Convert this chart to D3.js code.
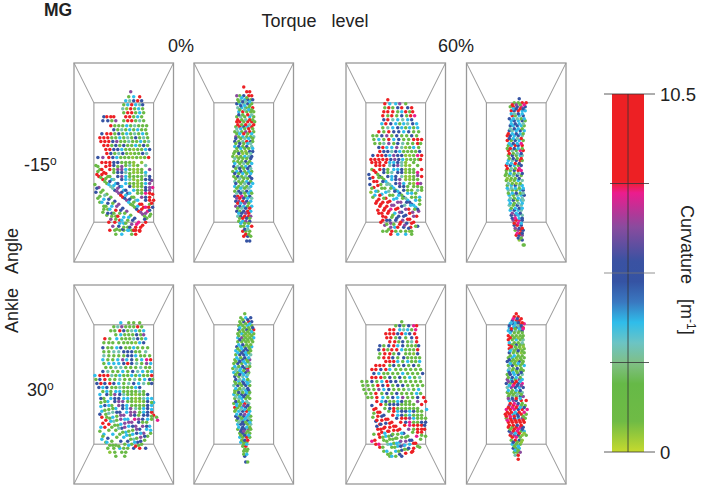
<!DOCTYPE html>
<html><head><meta charset="utf-8">
<script src="https://cdnjs.cloudflare.com/ajax/libs/d3/7.8.5/d3.min.js"></script>
<style>html,body{margin:0;padding:0;background:#fff}svg{display:block}text{font-family:"Liberation Sans",Arial,sans-serif;fill:#222}</style>
</head><body><svg id="c" width="702" height="485"></svg>
<script>
// curvature levels [1/m]
const R=9.5,M=7.6,P=6.6,B=5,C=3.8,T=3,G=1.5,L=0.6;
const torqueLabels=["0%","60%"];
const angleLabels=["-15","30"];
const curvTicks=[0,2.625,5.25,7.875,10.5];
const curvLabels=[0,10.5];
const gradStops=[0,0.9,2,2.6,3.2,3.8,4.4,5,5.6,6.6,7.6,7.95,10.5];
const gradColors=["#c6da2e","#6fbb45","#66b947","#80bf85","#6cc4c4","#2fbdea","#3a78c0","#3553a3","#3a52a2","#8a4b9e","#ec1c8e","#ed2024","#ed2024"];
// rows: [y, x,curvature, x,curvature, ...]
const panelA=[
[29,57,P],[34,55,G,60,C,66,R],[38,52,C,56,T,60,B,64,R,68,B],[42,50,G,54,C,58,R,62,C,66,T,69,B],[46,49,T,53,L,57,R,61,G,65,C,69,G],
[50,50,G,54,R,58,R,62,G,66,C,70,G],[54,30,B,33,R,37,R,40,R,52,R,56,R,60,G,64,C,68,G],[58,29,B,34,B,38,G,42,P,50,G,54,R,58,R,62,G,66,T,70,G],
[63,37,R,41,G,45,G,49,G,53,C,57,G,61,T,65,G,69,G,73,G],[67,40,B,44,G,48,T,52,G,56,C,60,G,64,C,68,G,72,G],
[71,28,B,33,R,37,R,41,G,45,B,49,G,53,C,57,G,61,T,65,G,69,C,73,G],[75,26,R,30,R,34,R,38,G,42,G,46,C,50,G,54,T,58,G,62,B,66,G,70,T,74,G],
[79,27,R,31,R,35,R,39,B,43,P,47,G,51,G,55,T,59,G,63,G,67,C,71,G,75,T],[83,30,R,34,R,38,G,42,B,46,G,50,B,54,G,58,G,62,C,66,G,70,B,74,G],
[87,32,R,36,R,40,B,44,B,48,C,52,G,56,G,60,L,64,G,68,G,72,C,76,B],[91,33,R,37,B,41,G,45,T,49,B,53,G,57,L,61,G,65,G,69,B,73,T],
[95,24,B,29,P,35,R,39,B,43,C,47,G,51,G,55,G,59,L,63,G,67,L,71,G,75,R],[168,36,R,41,G,46,G,50,G,55,C,60,B,62,R,66,R],[172,42,G,48,C,58,G,62,R]];
const strandsA=[
36,100,R,40,103,B,44,107,P,48,110,B,52,114,C,56,117,T,60,121,G,64,124,L,68,128,L,72,131,M,76,135,R,80,138,R,
44,100,B,48,104,P,52,107,C,56,111,G,60,114,G,64,118,L,68,121,G,72,125,B,76,128,P,79,132,R,
52,100,G,56,103,T,60,107,L,64,110,L,68,114,G,72,117,B,76,121,P,79,125,M,
60,100,L,64,103,G,68,107,G,72,110,C,76,114,B,78,118,P,68,100,L,72,103,T,76,107,P,
28,100,R,32,104,R,36,107,R,40,110,G,44,114,B,48,117,B,52,121,C,56,124,B,60,128,C,64,131,G,68,135,P,72,138,B,76,142,G,79,145,B,
22,103,G,26,107,G,30,110,R,34,114,G,38,117,C,42,121,C,46,124,B,50,128,C,54,131,B,58,135,G,62,138,T,66,142,R,70,145,R,74,149,M,77,152,G,
25,114,R,29,117,R,33,121,G,37,124,T,41,128,B,45,131,P,49,135,R,53,138,P,57,142,G,61,145,G,65,149,R,69,152,P,73,156,G,
21,122,G,25,125,P,29,128,G,33,132,G,37,135,G,41,139,B,45,142,P,49,146,B,53,149,P,57,153,G,61,156,B,65,160,M,69,163,R,
22,130,B,26,134,G,30,137,C,34,141,B,38,144,C,42,148,R,46,151,G,50,155,C,54,158,G,58,162,P,62,165,R,66,169,R,
26,140,G,30,144,G,34,147,G,38,151,B,42,154,G,46,158,R,50,161,C,54,165,G,58,168,G,
29,150,G,33,153,G,37,157,P,41,160,R,45,164,B,49,167,B,35,160,R,39,164,P,43,167,G,72,160,R];
const fillA=[
32,100,R,36,103,R,40,107,G,44,110,B,48,114,P,52,117,C,56,121,G,60,124,L,64,128,G,68,131,G,72,135,B,76,138,R,
40,100,B,44,104,G,48,107,P,52,110,T,56,114,G,60,117,L,64,121,L,68,124,G,72,128,B,76,131,R,
48,100,G,52,103,G,56,107,G,60,110,L,64,114,G,68,117,G,72,121,C,76,125,P,
56,100,G,60,103,L,64,107,L,68,110,G,72,113,T,76,117,B,
24,104,G,28,107,R,32,111,R,36,114,G,40,117,T,44,121,B,48,124,C,52,128,B,56,131,C,60,135,G,64,138,C,68,142,R,72,145,M,76,148,B,
23,112,R,27,115,G,31,119,G,35,122,C,39,126,T,43,129,P,47,133,R,51,136,B,55,140,C,59,143,G,63,147,B,67,150,P,71,154,G,
23,126,B,27,130,G,31,133,T,35,137,B,39,141,G,43,144,P,47,148,B,51,151,G,55,155,C,59,158,B,63,162,M,67,165,R,
24,136,G,28,140,C,32,144,G,36,147,C,40,151,G,44,154,R,48,158,C,52,161,G,56,165,B,60,168,R,
30,147,G,34,151,B,38,154,G,42,157,G,46,161,C,50,165,G,54,168,C,71,157,B,75,145,R,78,141,R,
24,109,G,28,112,R,32,116,G,36,119,B,40,123,C,44,126,P,48,130,B,52,133,C,56,137,B,60,140,G,64,144,C,68,147,R,72,151,P,76,154,G];
const panelB=[
[24,50,R],[29,53,R,56,R],[33,43,P,46,G,50,B,55,R,58,R],[37,44,G,47,T,51,C,54,B,57,G,59,B],[41,43,B,46,C,50,T,54,B,58,G],[45,44,T,48,C,52,G,55,G,59,R],
[49,45,C,49,R,53,G,57,G,60,G],[54,43,G,47,T,51,G,56,C,60,G],[59,43,R,46,R,50,G,54,R,58,R,61,G],[64,42,G,46,R,50,B,54,C,58,R],
[69,41,G,44,T,48,G,52,P,56,R,60,G],[74,42,P,45,G,49,C,53,G,57,G,60,T],[79,41,B,45,G,49,T,53,R,57,B,59,G],[84,41,C,45,B,49,G,53,B,58,T],
[89,41,G,44,G,48,G,52,L,56,B,59,B],[94,39,G,43,L,47,G,51,C,55,T,58,B],[99,40,G,44,G,48,G,52,B,56,G],[104,40,B,44,T,48,G,52,C,56,B],
[109,39,G,43,C,47,B,51,G,55,C,58,G],[114,40,G,44,B,48,G,52,T,56,B],[119,41,T,45,G,49,G,53,C,57,G],[124,41,C,45,G,49,T,53,G,57,C],
[129,41,G,45,B,49,T,53,B,57,C],[134,41,B,44,R,48,M,52,G,56,B],[139,42,B,45,P,49,R,53,B,57,C],[144,42,P,46,B,50,C,54,G,58,C],
[149,43,B,46,G,50,B,54,R,57,C],[154,44,T,47,B,51,R,55,R,57,P],[159,45,G,49,C,52,P,56,B],[164,47,G,50,G,54,C,58,R],[169,49,R,52,G,56,G],[174,50,R,54,B,57,G],[179,53,B,56,B]];
const extraB=[
[35,48,C,53,G],[39,45,G,49,B,52,T,56,C],[43,47,B,51,C,56,G],[47,46,G,51,T,55,C,58,G],[52,45,B,49,G,54,R,58,T],[57,44,R,48,G,52,T,56,R,59,G],[62,44,R,48,G,52,R,56,T,60,R],
[66,43,T,47,C,51,G,55,R,59,G],[71,43,G,46,C,50,R,54,G,58,C],[76,42,B,47,G,51,T,55,C,59,G],[81,42,G,46,B,50,G,54,C,57,T],[86,43,G,47,C,51,G,55,G,59,C],[91,40,G,45,B,49,L,53,G,57,T],
[96,41,T,45,G,49,G,53,G,57,B],[101,41,C,46,G,50,T,54,G,58,C],[106,42,G,46,B,50,G,54,B,57,T],[111,41,B,45,G,49,C,53,G,57,C],[116,42,G,46,T,50,G,54,G,58,B],[121,42,B,47,G,51,T,55,B,59,C],
[126,43,G,47,C,51,G,55,T],[131,43,T,47,B,51,G,55,C,58,G],[136,43,P,46,R,50,B,54,C,58,T],[141,44,R,47,C,51,P,55,G],[146,44,G,48,T,52,B,56,R],[151,45,C,48,B,52,P,55,R],[156,46,G,49,R,53,B,56,G],[161,47,C,51,G,55,G],[167,51,B,54,T],[172,52,R,55,G]];
const panelC=[
[37,42,R],[41,39,R,44,C,50,C,54,P,60,G],[45,39,G,43,R,47,G,52,B,56,R,62,B,66,R],[49,38,R,42,R,47,R,52,G,56,C,60,R,64,G,67,R],
[53,37,R,42,G,46,R,51,G,56,B,61,G,65,R,69,M],[57,38,B,42,R,47,T,52,C,57,T,62,C,66,B],[61,36,C,40,R,45,B,50,C,54,G,58,C,62,T,67,B,71,C],
[65,37,G,42,T,47,C,52,B,56,C,60,G,64,C,68,G,72,C],[69,33,R,38,G,43,R,48,B,53,B,58,C,63,B,68,G,73,G],[73,27,G,31,G,36,B,41,P,46,G,51,B,56,G,61,G,66,B,71,G],
[77,28,G,33,C,38,G,43,R,48,C,53,B,58,G,63,G,68,R,72,R,76,R],[81,29,G,34,G,38,T,43,P,48,G,52,B,57,T,62,G,67,G,72,R,75,G],
[85,33,B,37,R,41,C,46,C,51,P,56,T,60,L,64,G,68,C,73,G],[89,34,R,38,B,42,B,46,T,50,B,54,C,58,G,62,G,66,G,70,G,74,B],
[93,27,B,32,R,36,R,40,B,44,C,48,P,52,B,56,B,60,L,64,L,68,G,72,M,76,R],[97,25,R,29,R,33,R,37,R,41,R,45,B,49,P,53,B,57,C,61,L,65,G,69,G,73,G,75,R],
[169,37,G,41,G,46,R,50,G,55,G,60,G,64,L,66,G],[172,45,R,52,C,60,C,66,G]];
const strandsC=[
26,100,R,30,103,R,34,107,R,38,110,B,42,114,B,46,117,C,50,121,B,54,124,B,58,128,B,62,131,C,66,135,G,70,138,C,74,142,G,
34,100,R,38,103,R,42,107,G,46,110,T,50,114,B,54,117,P,58,121,C,62,124,G,66,128,G,70,131,G,74,135,C,
44,100,C,48,103,B,52,107,C,56,110,B,60,114,L,64,117,L,68,121,L,72,124,G,76,128,G,
52,100,B,56,103,T,60,107,L,64,110,G,68,114,G,72,117,G,75,121,P,60,100,L,64,103,L,68,107,G,72,110,M,76,114,R,68,100,G,72,103,G,76,107,R,
26,107,G,30,110,R,34,114,B,38,117,G,42,121,T,46,124,C,50,128,G,54,131,B,58,135,B,62,138,C,66,142,B,70,145,C,73,149,P,
23,112,B,27,115,R,31,119,R,35,122,G,39,126,G,43,129,T,47,133,G,51,136,C,55,140,P,59,143,T,63,147,R,67,150,P,71,154,R,
24,122,B,28,125,R,32,129,G,36,132,C,40,136,R,44,139,R,48,143,P,52,146,R,56,150,B,60,153,B,64,157,R,68,160,R,72,164,B,
25,130,L,29,133,C,33,137,R,37,140,R,41,144,R,45,147,M,49,151,C,53,154,B,57,158,P,61,161,B,65,165,R,
30,141,R,34,144,R,38,148,R,42,151,R,46,155,G,50,158,B,54,162,R,58,165,B,33,151,R,37,154,R,41,158,B,45,161,P,49,165,C,35,160,R,39,163,P,43,167,G];
const fillC=[
30,100,R,34,103,R,38,107,B,42,110,G,46,114,C,50,117,B,54,121,P,58,124,B,62,128,G,66,131,C,70,135,G,74,138,G,
40,100,R,44,103,T,48,107,C,52,110,B,56,114,T,60,117,L,64,121,G,68,124,G,72,128,T,
48,100,C,52,103,P,56,107,B,60,110,L,64,114,L,68,117,G,72,121,M,76,125,G,
56,100,T,60,103,L,64,107,G,68,110,G,72,113,P,
28,108,R,32,112,G,36,115,G,40,119,C,44,122,T,48,126,C,52,129,C,56,133,G,60,136,T,64,140,B,68,143,C,72,147,B,
24,116,B,28,119,R,32,123,R,36,126,G,40,130,C,44,133,G,48,137,C,52,140,P,56,144,B,60,147,P,64,151,R,68,154,P,
26,126,G,30,129,C,34,133,R,38,136,G,42,140,R,46,143,P,50,147,R,54,150,P,58,154,B,62,157,R,66,161,R,70,164,G,
27,135,G,31,139,R,35,142,R,39,146,R,43,149,R,47,153,G,51,156,B,55,160,R,59,163,P,63,166,B,
32,148,R,36,151,R,40,155,R,44,158,B,48,162,G,52,165,R,37,158,R,41,162,G,45,165,P,
33,115,G,37,119,B,41,122,T,45,126,G,49,129,B,53,133,C,57,136,G,61,140,B,65,143,C,69,147,G];
const panelD=[
[36,53,B],[40,48,G,52,G,56,R,60,R],[44,44,G,47,R,51,B,55,M,59,B],[48,45,R,48,B,52,R,56,C,59,C],[53,46,R,49,G,53,C,57,B],[58,45,C,48,B,52,C,56,B,59,G],
[63,44,B,47,C,51,B,55,C,58,G],[68,43,B,46,T,50,C,54,B,58,C],[73,41,R,44,B,48,C,52,B,56,T],[78,41,R,45,G,49,B,53,C,57,G],[83,42,G,45,C,49,R,52,B,56,R],
[88,42,R,46,T,50,G,54,M,57,R],[93,42,G,46,B,50,G,54,C,56,T],[98,42,C,46,T,50,B,54,R,56,G],[103,40,R,44,B,48,C,52,G,55,B],[108,40,G,44,G,48,B,52,R,55,M],
[113,39,G,43,G,47,T,51,B,55,G],[118,40,G,44,L,48,G,52,C,56,T],[123,41,G,45,C,49,B,53,T,56,C],[128,42,T,46,G,50,G,54,C,57,B],[133,43,C,47,G,51,T,55,C,58,B],
[138,43,C,47,B,51,G,55,C,57,T],[143,43,T,47,G,51,B,55,T],[148,44,C,48,B,52,C,55,T],[153,45,B,49,P,52,C,56,T],[158,47,P,50,R,53,M,56,B],[163,48,B,51,R,55,B],
[168,49,G,52,P,55,R,57,B],[173,50,R,53,B,56,P],[178,53,L,56,B],[183,57,G,58,G]];
const extraD=[
[42,46,R,50,P,54,G,58,M],[46,47,C,50,B,54,R,57,B],[51,45,C,48,T,52,B,56,C],[56,43,B,47,C,51,T,55,G,58,C],[61,45,C,49,B,53,C,57,T],[66,44,T,48,B,52,C,56,G],[71,42,R,46,C,50,B,54,C,57,G],
[76,43,B,47,C,51,T,55,R],[81,43,C,47,B,51,C,55,M],[86,41,G,44,R,48,B,52,C,56,G],[91,43,R,47,G,51,T,55,B],[96,43,G,47,B,51,G,55,R],[101,41,C,45,C,49,R,53,B],[106,41,R,45,T,49,G,53,M],
[111,40,G,44,C,48,G,52,T,56,B],[116,41,L,45,G,49,G,53,B],[121,42,T,46,G,50,L,54,G],[126,41,C,45,T,49,C,53,G,57,C],[131,42,G,46,C,50,B,54,G,57,T],[136,44,T,48,G,52,C,56,T],[141,44,C,48,G,52,T,56,C],
[146,45,G,49,C,53,B,56,C],[151,46,P,50,C,54,B],[156,46,B,49,M,53,C,56,B],[161,48,R,52,M,55,C],[166,49,P,53,B,56,R],[171,51,M,54,R,56,B],[176,52,B,55,G]];
const panelE=[
[38,47,C,55,G,60,G,66,G],[42,40,G,44,T,48,P,52,G,56,G,60,G,64,R,68,G],[46,37,G,41,G,46,R,50,B,54,G,58,T,62,C,66,G,70,C],[50,42,G,47,C,51,G,55,G,59,G,63,B,67,G,70,P],
[54,31,R,36,G,43,C,48,G,52,G,56,G,60,T,64,B,68,G,72,C],[58,30,G,35,G,39,G,45,G,50,G,54,G,58,G,62,L,66,C,70,B],[63,29,B,34,G,38,G,43,C,47,B,52,G,56,G,60,C,64,G,69,G,74,G],
[67,30,G,35,G,40,T,45,T,50,B,54,B,58,B,62,G,66,G,72,T],[71,30,T,35,G,40,G,45,G,50,G,54,B,58,B,62,C,67,G,71,G,76,G],[75,29,C,34,G,39,G,44,C,49,P,53,C,58,B,63,G,68,C,73,M,77,R],
[79,30,G,35,C,40,C,45,C,50,B,54,R,58,B,63,T,68,G,73,P,77,C],[83,32,G,37,G,42,T,47,T,52,G,57,G,62,G,67,T,72,G,76,G],[87,29,B,34,T,39,G,44,G,49,C,54,G,59,B,64,T,69,C,74,G,78,C],
[91,21,C,26,R,30,R,34,R,38,T,42,G,46,C,50,G,54,G,58,C,62,G,66,C,70,G,74,G,78,R],[95,22,G,26,B,31,R,36,G,41,G,46,T,51,G,56,G,61,T,66,G,71,C,76,B,79,G],
[99,23,B,27,R,31,B,36,R,40,B,45,C,50,G,55,T,60,B,65,C,70,T,75,G,78,B],
[164,34,G,40,G,46,C,50,G,54,G,60,B,66,R,72,B],[168,36,L,41,G,48,G,52,G],[172,42,G,51,G]];
const strandsE=[
25,103,B,29,107,G,33,110,B,37,114,C,41,117,B,45,121,P,49,124,B,53,128,C,57,131,P,61,135,M,65,138,B,69,142,P,73,145,C,77,149,G,
33,103,B,37,107,G,41,110,P,45,114,B,49,117,P,53,121,C,57,124,P,61,128,P,65,131,G,69,135,B,73,138,G,76,142,C,
42,103,G,46,107,C,50,110,T,54,114,C,58,117,G,62,121,G,66,124,G,70,128,C,74,131,B,78,135,G,
50,103,G,54,107,G,58,110,G,62,114,L,66,117,L,70,121,G,74,124,B,78,128,R,80,131,R,
58,103,G,62,107,G,66,110,G,70,114,T,74,117,B,78,121,C,83,133,G,66,103,B,70,107,G,74,110,B,78,114,C,80,118,C,84,136,M,
26,110,C,30,114,G,34,117,C,38,121,G,42,124,C,46,128,B,50,131,P,54,135,C,58,138,P,62,142,P,66,145,B,70,149,P,74,152,G,
27,118,G,31,121,B,35,125,G,39,128,T,43,132,G,47,135,P,51,139,P,55,142,C,59,146,G,63,149,B,67,153,P,71,156,G,
28,127,C,32,130,G,36,134,G,40,137,T,44,141,G,48,144,B,52,148,C,56,151,G,60,155,T,64,158,B,68,160,G,
28,133,R,32,136,R,35,140,R,29,139,R,31,143,R,38,143,G,42,146,G,46,150,G,50,153,C,54,157,B,58,160,G,62,162,R,
26,147,G,30,150,C,34,154,B,38,157,G,42,161,G,28,155,C,32,158,G,36,161,G];
const fillE=[
29,103,C,33,107,C,37,110,G,41,114,B,45,117,P,49,121,B,53,124,C,57,128,P,61,131,B,65,135,P,69,138,G,73,142,B,77,146,C,
38,103,G,42,107,C,46,110,B,50,114,C,54,117,G,58,121,G,62,124,T,66,128,G,70,131,B,74,135,C,
46,103,T,50,107,G,54,110,G,58,114,G,62,117,L,66,121,G,70,124,C,74,128,B,78,132,G,
54,103,G,58,107,G,62,110,L,66,114,G,70,117,G,74,121,B,78,125,C,
62,103,C,66,107,T,70,110,G,74,114,C,78,118,G,
27,114,B,31,117,G,35,121,C,39,124,G,43,128,B,47,131,P,51,135,C,55,138,P,59,142,B,63,145,P,67,149,C,71,152,B,
27,122,C,31,126,G,35,129,T,39,133,C,43,136,G,47,140,C,51,143,P,55,147,G,59,150,C,63,154,G,67,157,B,
26,130,B,33,133,G,37,137,C,41,141,G,45,144,T,49,148,G,53,151,C,57,155,G,61,158,C,65,161,G,
27,143,C,35,146,G,39,150,C,43,153,G,47,157,B,51,160,G,55,161,C,29,152,G,33,158,C,39,161,G,45,162,G];
const panelF=[
[29,51,G],[33,47,G,52,C,57,B],[37,46,G,50,B,55,R,58,B],[41,45,G,49,G,54,C,58,G],[45,45,B,49,G,53,B,56,G,60,R],[49,44,G,48,C,52,G,56,G,60,G],[53,44,C,48,P,52,G,56,G,60,C],
[57,44,G,48,G,52,G,55,L,59,G],[62,43,B,47,C,51,G,55,G,58,C],[66,42,C,46,G,50,B,54,B,57,G],[70,42,G,46,B,50,B,53,C,57,T],[75,41,G,45,C,49,B,53,G,56,P],[79,40,G,44,B,48,G,52,C,56,T],
[84,39,G,43,T,47,C,51,B,54,R],[88,40,C,44,G,48,C,52,B,55,G],[92,41,B,45,G,49,T,53,C],[97,41,G,45,C,49,B,53,C,56,T],[101,40,T,44,B,48,G,52,B,56,G],[106,41,G,44,G,48,T,52,C,55,B],
[110,40,C,44,G,48,B,52,B,55,T],[114,41,G,45,T,48,C,52,G,56,G],[119,40,G,43,C,47,G,51,R,55,T],[123,41,R,44,G,48,C,52,B,56,G],[127,41,G,45,C,49,B,53,R,56,C],[132,42,B,46,G,50,B,54,C,57,G],
[136,43,G,47,T,50,C,54,B,57,G],[140,44,C,47,B,50,B,54,G,57,T],[145,44,G,48,B,51,B,55,P,57,G],[149,46,G,49,B,52,G,56,G],[153,46,C,49,G,53,R,56,G],[158,47,C,50,G,53,G],[162,49,G,52,R],[167,50,G,53,G],[172,51,B],[178,52,B,54,G]];
const extraF=[
[35,49,G,54,B],[39,47,G,52,G,56,C],[43,46,C,51,G,55,G,59,B],[47,46,G,50,G,54,G,58,C],[51,45,G,50,G,54,L,58,G],[55,46,B,50,G,54,G,58,G],[60,45,C,49,B,53,G,57,G],[64,44,G,48,C,52,B,56,G],
[68,44,C,48,B,52,C,55,G],[73,43,C,47,G,51,B,55,C],[77,42,G,46,B,50,C,54,G],[82,41,C,45,G,49,B,53,T,56,G],[86,42,T,46,C,50,G,54,P],[90,42,G,46,B,50,C,54,T],[95,42,B,46,T,50,C,54,G],[99,42,G,46,G,50,B,54,C],
[104,42,C,46,G,50,T,54,B],[108,41,G,45,B,49,G,53,C,56,G],[112,42,T,46,C,50,B,54,G],[117,42,B,45,G,49,C,53,T],[121,43,C,46,G,50,P,54,B],[125,42,G,47,T,51,C,55,G],[130,43,C,47,B,51,P,55,C],[134,44,B,48,G,52,C,55,T],
[138,45,T,49,B,52,G,56,C],[143,45,C,49,B,53,C,56,G],[147,47,B,50,P,54,G],[151,47,G,51,B,55,C],[156,48,G,51,B,54,R],[160,50,G,53,C],[165,51,G,54,G],[170,50,G,53,C]];
const panelG=[
[37,56,G],[41,50,G,54,B,58,G,63,B,68,M,71,R],[45,44,R,48,R,54,C,58,T,62,C,66,G,70,M],[49,40,R,44,R,48,R,52,B,56,R,60,C,64,B,69,R],[53,41,R,45,R,50,G,54,B,60,G,66,B,71,R],
[57,44,R,49,R,53,G,57,B,62,G,66,T,71,R],[61,34,B,38,G,43,B,48,R,52,C,57,B,62,G,66,G,70,G,73,B],[65,33,B,38,R,42,G,46,R,51,R,56,C,60,G,64,G,68,G,72,R],[69,34,G,39,R,44,R,48,G,53,B,60,G,64,G,68,L,72,B],
[73,33,G,38,R,43,R,47,B,52,G,58,B,62,G,66,G,70,G,74,G],[77,40,R,44,R,48,R,52,C,57,G,62,C,66,G,70,G,74,C],[81,30,R,34,R,38,R,44,G,48,B,53,G,58,B,63,G,68,B,73,G],[85,26,R,30,R,35,B,40,R,44,C,50,G,55,G,60,G,65,G,70,G,75,G],
[89,28,B,33,C,38,G,42,G,47,G,52,G,57,C,62,G,67,G,72,G,77,B],[93,26,R,30,R,35,R,39,G,44,B,49,G,54,B,59,G,64,C,69,G,74,T],[97,16,G,21,G,26,B,31,G,36,C,41,R,45,B,50,B,55,G,60,G,65,G,70,G,75,G],
[101,17,G,22,G,27,G,32,R,37,B,42,R,47,G,52,B,57,B,62,G,67,G,72,G,77,G],[105,18,G,23,G,28,G,33,P,38,C,43,B,48,G,53,G,58,G,63,T,68,G,73,C],[109,20,G,25,G,30,R,36,G,41,B,46,G,51,B,56,G,61,G,66,G,71,C,75,G],
[113,22,G,26,G,31,R,37,C,42,G,47,B,52,C,57,P,62,G,67,G,72,B,78,R],[172,44,G,50,G,56,B]];
const strandsG=[
31,117,R,35,120,R,39,124,G,43,127,G,47,131,R,51,134,B,55,138,R,59,141,R,63,145,P,67,148,G,71,152,M,75,155,G,
26,121,B,30,124,R,34,128,R,38,131,B,42,135,R,46,138,R,50,142,R,54,145,R,58,149,B,62,152,G,66,156,B,70,159,R,74,163,G,
28,129,G,32,132,R,36,136,R,40,139,B,44,143,R,48,146,R,52,150,G,56,153,G,60,157,P,64,160,C,68,164,R,
30,137,B,34,140,R,38,144,R,42,147,R,46,151,B,50,154,G,54,158,C,58,161,P,62,165,G,66,168,R,
32,145,R,36,148,R,40,152,C,44,155,G,48,159,G,52,162,C,56,166,B,60,169,R,34,153,R,38,156,G,42,160,T,46,163,G,50,167,C,54,170,B,
26,157,M,30,160,R,34,163,R,38,167,G,42,170,G,46,172,C,
40,117,B,44,120,B,48,124,R,52,127,C,56,131,B,60,134,R,64,138,M,68,141,R,72,145,R,76,148,R,80,152,G,
48,117,G,52,120,B,56,124,G,60,127,B,64,131,C,68,134,C,72,138,G,76,141,R,79,145,R,
56,117,B,60,120,G,64,124,G,68,127,B,72,131,G,76,134,G,80,138,B,64,117,G,68,120,G,72,124,G,76,127,G,81,125,C,72,117,P,76,120,R,80,117,R];
const fillG=[
36,117,C,40,120,G,44,124,B,48,127,R,52,131,C,56,134,R,60,138,B,64,141,M,68,145,G,72,148,R,76,151,G,
44,117,G,48,120,B,52,124,G,56,127,B,60,131,G,64,134,P,68,138,G,72,141,R,76,145,R,
52,117,C,56,120,G,60,124,G,64,127,C,68,131,G,72,134,G,76,138,B,79,141,B,
60,117,G,64,120,G,68,124,G,72,127,G,76,131,G,80,134,G,
28,125,R,32,128,R,36,132,B,40,135,R,44,139,R,48,142,R,52,146,R,56,149,C,60,153,G,64,156,B,68,159,R,72,162,G,
27,133,G,31,136,R,35,140,B,39,143,R,43,147,R,47,150,G,51,154,G,55,157,P,59,161,C,63,164,B,67,167,R,
31,142,B,35,145,R,39,149,C,43,152,G,47,155,G,51,159,C,55,162,B,59,165,G,
28,150,G,33,150,R,37,153,G,41,157,G,45,160,C,49,163,G,53,167,G,29,156,R,33,160,M,37,163,G,41,167,C,45,169,G];
const panelH=[
[29,50,R],[32,48,R,52,R],[36,46,B,50,R,53,R],[39,44,C,47,B,50,T,53,R,58,M],[43,43,C,47,C,50,B,54,B,57,R],[46,42,C,45,B,49,T,53,G,56,B],[51,42,R,46,G,50,G,54,G,57,G],[55,42,R,46,G,50,C,54,G,57,T],
[60,43,R,46,G,50,B,54,G,57,G],[64,43,R,46,T,50,G,54,L,58,G],[68,43,B,47,G,51,G,55,L,58,G],[73,42,G,46,C,50,G,54,G,58,G],[77,41,B,45,G,49,G,53,B,57,G],[81,42,G,46,B,50,L,54,G,58,C],[86,42,C,46,G,50,G,54,G,57,G],
[90,41,G,44,B,48,C,52,B,56,T],[95,41,P,45,C,49,G,53,P,56,C],[99,40,B,44,G,48,R,52,B,56,M],[103,41,T,45,P,49,B,53,C,57,B],[108,41,G,45,G,49,G,53,G,56,T],[112,42,G,46,T,50,G,54,B,57,P],
[116,43,C,47,P,50,B,55,R,60,R],[121,43,P,47,R,51,M,55,G,59,G],[125,40,M,44,R,48,M,52,B,56,R,61,M],[130,39,R,43,R,47,C,51,B,55,R,60,G],[134,40,G,44,R,48,B,52,C,56,P,59,G],[138,42,R,46,R,50,R,54,R,58,R],[143,42,R,46,G,50,R,54,M,57,B],
[147,43,B,47,R,51,M,55,G,58,C],[151,44,R,48,P,52,B,56,L,60,G],[156,45,G,49,R,53,B,56,L],[160,46,C,50,G,54,G],[164,47,B,50,G,53,C],[168,48,G,51,G,54,P],[171,49,T,52,R],[175,52,R]];
const extraH=[
[34,47,M,51,B,55,R],[38,45,C,49,C,52,B,56,R],[41,43,B,48,C,52,T,55,B],[44,45,R,49,G,53,C,57,M],[48,44,C,48,G,52,G,56,G],[53,44,R,48,G,52,L,56,G],[58,43,C,48,G,52,G,56,T],[62,45,R,49,G,53,G,57,L],[66,44,C,48,G,52,B,56,G],
[71,44,G,48,C,52,G,56,G],[75,43,B,47,G,51,L,55,G],[79,44,C,48,G,52,C,56,G],[84,43,T,47,G,51,B,55,G],[88,43,B,47,C,51,G,55,B],[93,42,G,46,B,50,C,54,G],[97,42,P,46,B,50,R,54,C],[101,43,C,47,M,51,B,55,P],
[106,42,C,46,G,50,C,54,B],[110,43,G,47,G,51,T,55,G],[114,42,P,46,B,50,R,54,C],[119,44,R,48,M,52,B,56,G],[123,42,R,46,M,50,R,54,C,58,B],[128,41,R,45,R,49,C,53,R,58,M],[132,40,R,44,M,48,R,52,B,57,G],[136,41,M,45,R,49,R,53,R,57,R],
[141,43,R,47,R,51,B,55,R],[145,44,G,48,R,52,M,56,B],[149,45,P,49,C,53,R,58,L],[153,46,R,50,M,54,G],[158,47,B,51,G,55,L],[162,48,G,52,C],[166,49,C,52,G]];
const panelData=[[panelA,strandsA.concat(fillA)],[panelB,extraB],[panelC,strandsC.concat(fillC)],[panelD,extraD],[panelE,strandsE.concat(fillE)],[panelF,extraF],[panelG,strandsG.concat(fillG)],[panelH,extraH]];

const svg=d3.select("#c");
const curvColor=d3.scaleLinear().domain(gradStops).range(gradColors);
const colLefts=[74,194,346,466.5], rowTops=[63,285];
const W=99.5,H=199;
const defs=svg.append("defs");
const grad=defs.append("linearGradient").attr("id","g").attr("x1",0).attr("x2",0).attr("y1",1).attr("y2",0);
const yBar=d3.scaleLinear().domain([0,10.5]).range([452,94]);
grad.selectAll("stop").data(gradStops).join("stop").attr("offset",d=>d/10.5).attr("stop-color",(d,i)=>gradColors[i]);
const rowPoints=rows=>rows.flatMap(r=>d3.range(1,r.length,2).map(k=>({x:r[k],y:r[0],c:r[k+1]})));
const extraPoints=e=>typeof e[0]==="number"
  ? d3.range(0,e.length,3).map(k=>({x:e[k],y:e[k+1],c:e[k+2]}))
  : rowPoints(e);

panelData.forEach(([rows,extra],i)=>{
  const left=colLefts[i%4], top=rowTops[i<4?0:1];
  const x=d3.scaleLinear().domain([0,100]).range([left,left+W]);
  const y=d3.scaleLinear().domain([0,200]).range([top,top+H]);
  const g=svg.append("g");
  const corners=[[0,0,20,40],[100,0,80,40],[0,200,20,160],[100,200,80,160]];
  g.selectAll("line").data(corners).join("line")
    .attr("x1",d=>x(d[0])).attr("y1",d=>y(d[1])).attr("x2",d=>x(d[2])).attr("y2",d=>y(d[3]))
    .attr("stroke","#8a8a8a").attr("stroke-width",0.9);
  g.append("rect").attr("x",x(0)).attr("y",y(0)).attr("width",W).attr("height",H)
    .attr("fill","none").attr("stroke","#999").attr("stroke-width",1.3);
  g.append("rect").attr("x",x(20)).attr("y",y(40)).attr("width",x(80)-x(20)).attr("height",y(160)-y(40))
    .attr("fill","none").attr("stroke","#999").attr("stroke-width",1.1);
  const pts=rowPoints(rows).concat(extraPoints(extra));
  g.selectAll("circle").data(pts).join("circle")
    .attr("cx",d=>x(d.x)).attr("cy",d=>y(d.y)).attr("r",1.75)
    .attr("fill",d=>curvColor(d.c));
});

// colour bar
svg.append("rect").attr("x",612).attr("y",yBar(10.5)).attr("width",32).attr("height",yBar(0)-yBar(10.5)).attr("fill","url(#g)");
svg.append("line").attr("x1",628).attr("x2",628).attr("y1",yBar(10.5)).attr("y2",yBar(0)).attr("stroke","#333").attr("stroke-width",0.8);
svg.selectAll("line.tk").data(curvTicks).join("line").attr("class","tk")
  .attr("x1",(d,i)=>i%2?610:604).attr("x2",(d,i)=>i%2?649:655)
  .attr("y1",d=>yBar(d)).attr("y2",d=>yBar(d)).attr("stroke",(d,i)=>i==2?"#777":"#333").attr("stroke-width",0.8);
svg.selectAll("text.bl").data(curvLabels).join("text").attr("class","bl")
  .attr("x",660).attr("y",d=>yBar(d)+6.5).attr("font-size",18.5).text(d=>d);

const label=(x,y,t,o={})=>svg.append("text").attr("x",x).attr("y",y).attr("font-size",o.size||18)
  .attr("text-anchor",o.anchor||"start").attr("font-weight",o.weight||null).style("white-space","pre")
  .attr("transform",o.rot?`rotate(${o.rot} ${x} ${y})`:null).text(t);
label(44,16,"MG",{weight:"bold",size:17.5});
label(315,27,"Torque   level",{anchor:"middle"});
label(181,52,torqueLabels[0],{anchor:"middle"});
label(456,52,torqueLabels[1],{anchor:"middle"});
[[24,171],[27,396]].forEach((p,i)=>{
  const t=label(p[0],p[1],angleLabels[i]);
  t.append("tspan").attr("dy",-6).attr("font-size",12).text("o");
});
label(18,333,"Ankle   Angle",{rot:-90});
const cv=label(681,205,"Curvature   [m",{rot:90});
cv.append("tspan").attr("dy",-6).attr("font-size",12).text("-1");
cv.append("tspan").attr("dy",6).text("]");
</script></body></html>
